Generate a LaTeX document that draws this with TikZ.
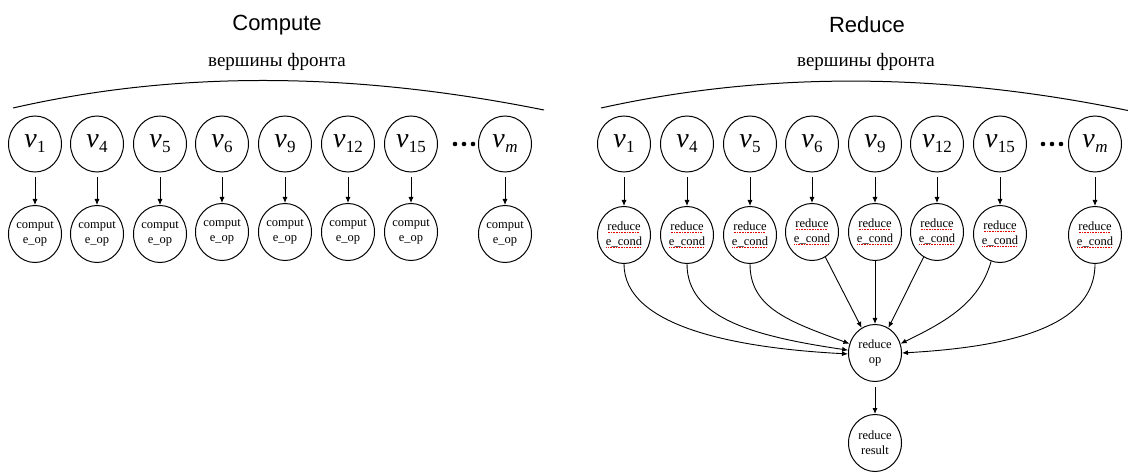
\documentclass[tikz,border=0pt]{standalone}
\usepackage{fontspec}
\setmainfont{Liberation Serif}
\newfontfamily\titlefont{Liberation Sans}
\usetikzlibrary{shapes.geometric,arrows.meta}
\newcommand\sqline[1]{\setbox0\hbox{#1}\rlap{\color{red!90!black}\raisebox{-2.6pt}{\leaders\hbox to 1.6pt{\hss\rule{0.8pt}{0.8pt}\hss}\hskip\wd0}}\box0}
\newcommand\vlab[1]{\textit{v}\kern0.5pt\raisebox{-5pt}{\fontsize{17}{17}\selectfont #1}}
\tikzset{
  vnode/.style={draw,ellipse,line width=1pt,minimum width=53pt,minimum height=56pt,inner sep=0pt,font=\fontsize{28}{30}\selectfont},
  opnode/.style={draw,ellipse,line width=1pt,minimum width=53pt,minimum height=57pt,inner sep=0pt,align=center,font=\fontsize{12.5}{15}\selectfont},
  arr/.style={line width=0.9pt,-{Latex[length=6pt,width=5pt]}},
  downarr/.style={arr,shorten <=5pt},
  titletext/.style={font=\titlefont\fontsize{22}{26}\selectfont},
  fronttext/.style={font=\fontsize{19}{23}\selectfont},
  arcline/.style={line width=1pt},
  dotfill/.style={fill=black},
}
\begin{document}
\begin{tikzpicture}[x=1pt,y=-1pt]
\useasboundingbox (0,0) rectangle (1128,473);
% ---------- Compute ----------
\node[titletext] (tc) at (277,25) {Compute};
\node[fronttext] (fc) at (277,62) {вершины фронта};
\coordinate (al) at (13,108);
\coordinate (ar) at (544,110);
\draw[arcline] (al) .. controls (175,71) and (350,71) .. (ar);
\foreach \n/\x/\lab/\yb in {1/35/1/234,4/97/4/234,5/160/5/234,6/222/6/232,9/285/9/232,12/348/12/232,15/411/15/232,m/505/\textit{m}/234}{
  \node[vnode] (cv\n) at (\x,144) {\vlab{\lab}};
  \node[opnode] (co\n) at (\x,\yb) {comput\\e\_op};
  \draw[downarr] (cv\n) -- (co\n);
}
\foreach \x in {455,464,473}{\fill[dotfill] (\x,144) circle (2.3);}
% ---------- Reduce ----------
\node[titletext] (tr) at (867,25) {Reduce};
\node[fronttext] (fr) at (866,62) {вершины фронта};
\coordinate (bl) at (601,108);
\coordinate (br) at (1135,112);
\draw[arcline] (bl) .. controls (768,71) and (946,72) .. (br);
\foreach \n/\x/\lab/\yb in {1/624/1/235,4/687/4/235,5/750/5/235,6/812/6/232,9/875/9/232,12/937/12/232,15/1000/15/234,m/1095/\textit{m}/235}{
  \node[vnode] (rv\n) at (\x,144) {\vlab{\lab}};
  \node[opnode] (rc\n) at (\x,\yb) {\sqline{reduce}\\\sqline{e\_cond}};
  \draw[downarr] (rv\n) -- (rc\n);
}
\foreach \x in {1043,1052,1061}{\fill[dotfill] (\x,144) circle (2.3);}
\node[opnode] (op) at (875,353) {reduce\\op};
\node[opnode] (res) at (875,443) {reduce\\result};
\draw[downarr] (op) -- (res);
\draw[arr] (rc1.south) .. controls +(0,62) and +(-115,-6) .. (op.182);
\draw[arr] (rc4.south) .. controls +(0,54) and +(-95,-14) .. (op.174);
\draw[arr] (rc5.south) .. controls +(0,44) and +(-60,-22) .. (op.160);
\draw[arr] (rc6.-62) -- (op.118);
\draw[arr] (rc9.south) -- (op.north);
\draw[arr] (rc12.-118) -- (op.62);
\draw[arr] (rc15.-108) .. controls +(-12,42) and +(45,-22) .. (op.20);
\draw[arr] (rcm.south) .. controls +(0,64) and +(105,-6) .. (op.0);
\end{tikzpicture}
\end{document}
